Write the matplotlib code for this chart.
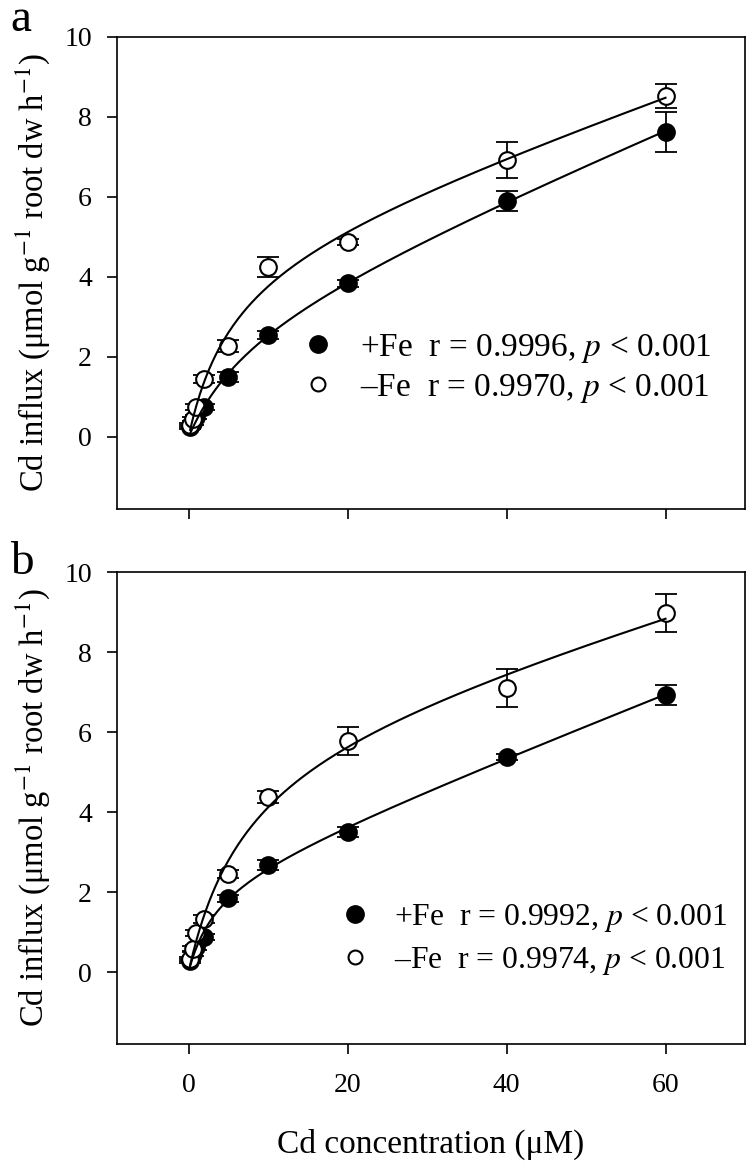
import numpy as np
import matplotlib
matplotlib.use("Agg")
import matplotlib.pyplot as plt
from matplotlib.lines import Line2D

plt.rcParams['font.family'] = ['Liberation Serif', 'DejaVu Serif']
plt.rcParams['mathtext.fontset'] = 'stix'

# Cd concentration (uM)
conc = [0.2, 0.5, 1, 2, 5, 10, 20, 40, 60]

# panel a
a_plus = [0.25, 0.35, 0.5, 0.75, 1.5, 2.55, 3.84, 5.9, 7.63]
a_plus_err = [0.05, 0.05, 0.06, 0.08, 0.12, 0.1, 0.08, 0.25, 0.5]
a_minus = [0.3, 0.45, 0.75, 1.45, 2.28, 4.25, 4.88, 6.92, 8.52]
a_minus_err = [0.05, 0.06, 0.08, 0.1, 0.15, 0.25, 0.08, 0.45, 0.3]

# panel b
b_plus = [0.28, 0.45, 0.62, 0.88, 1.84, 2.68, 3.5, 5.37, 6.93]
b_plus_err = [0.05, 0.05, 0.06, 0.08, 0.08, 0.12, 0.12, 0.08, 0.25]
b_minus = [0.32, 0.58, 0.98, 1.32, 2.45, 4.38, 5.78, 7.1, 8.98]
b_minus_err = [0.05, 0.06, 0.08, 0.1, 0.1, 0.15, 0.35, 0.47, 0.47]

a_labels = ['+Fe  r = 0.9996, $p$ < 0.001', '\u2013Fe  r = 0.9970, $p$ < 0.001']
b_labels = ['+Fe  r = 0.9992, $p$ < 0.001', '\u2013Fe  r = 0.9974, $p$ < 0.001']

xticks = [0, 20, 40, 60]
yticks = [0, 2, 4, 6, 8, 10]


def fit_curve(x, y):
    # Michaelis-Menten plus linear term, Km by grid search
    x = np.asarray(x, float)
    y = np.asarray(y, float)
    best = None
    for km in np.linspace(0.5, 40, 400):
        A = np.column_stack([x / (km + x), x])
        coef, res, _, _ = np.linalg.lstsq(A, y, rcond=None)
        err = np.sum((A @ coef - y) ** 2)
        if best is None or err < best[0]:
            best = (err, km, coef)
    _, km, coef = best
    xs = np.linspace(x.min(), x.max(), 300)
    return xs, coef[0] * xs / (km + xs) + coef[1] * xs


def draw_panel(ax, plus, plus_err, minus, minus_err, labels, show_xlabels, leg):
    for vals, errs, face in [(plus, plus_err, 'black'), (minus, minus_err, 'white')]:
        ax.errorbar(conc, vals, yerr=errs, fmt='none', ecolor='black',
                    elinewidth=1.3, capsize=8, capthick=1.3, zorder=2)
        ax.plot(conc, vals, 'o', ms=12, mfc=face, mec='black', mew=1.5,
                linestyle='none', zorder=3)
        xs, ys = fit_curve(conc, vals)
        ax.plot(xs, ys, color='black', lw=1.5, zorder=4)

    ax.set_xlim(-9, 70)
    ax.set_ylim(-1.8, 10)
    ax.set_xticks(xticks)
    ax.set_yticks(yticks)
    ax.tick_params(direction='out', length=7, width=1.2, labelsize=20)
    ax.tick_params(axis='x', pad=14)
    ax.tick_params(axis='y', pad=11)
    if not show_xlabels:
        ax.set_xticklabels([])
    for s in ax.spines.values():
        s.set_linewidth(1.2)

    ax.set_ylabel('Cd influx (\u03bcmol g$^{\\mathrm{-1}}$ root dw h$^{\\mathrm{-1}}$)',
                  fontsize=23.5, labelpad=9)

    handles = [Line2D([], [], marker='o', ls='none', ms=12.5, mfc='black', mec='black'),
               Line2D([], [], marker='o', ls='none', ms=10, mfc='white', mec='black', mew=1.5)]
    ax.legend(handles, labels, loc='center left', bbox_to_anchor=leg['anchor'],
              frameon=False, fontsize=leg['size'], handletextpad=leg['pad'],
              labelspacing=leg['spacing'], borderpad=0, borderaxespad=0,
              handlelength=1.0)


fig = plt.figure(figsize=(7.47, 11.63), dpi=100)
W, H = 747, 1163
ax_a = fig.add_axes([117 / W, 1 - 509 / H, 628 / W, 472 / H])
ax_b = fig.add_axes([117 / W, 1 - 1044 / H, 628 / W, 472 / H])

draw_panel(ax_a, a_plus, a_plus_err, a_minus, a_minus_err, a_labels, False,
           {'anchor': (0.293, 0.298), 'size': 24, 'pad': 0.78, 'spacing': 0.2})
draw_panel(ax_b, b_plus, b_plus_err, b_minus, b_minus_err, b_labels, True,
           {'anchor': (0.353, 0.222), 'size': 22.8, 'pad': 0.76, 'spacing': 0.34})
ax_b.set_xlabel('Cd concentration (\u03bcM)', fontsize=24, labelpad=22)

fig.text(10 / W, 1 - 31 / H, 'a', fontsize=34, ha='left', va='baseline')
fig.text(10 / W, 1 - 574 / H, 'b', fontsize=34, ha='left', va='baseline')

fig.savefig('out.png', dpi=100)
